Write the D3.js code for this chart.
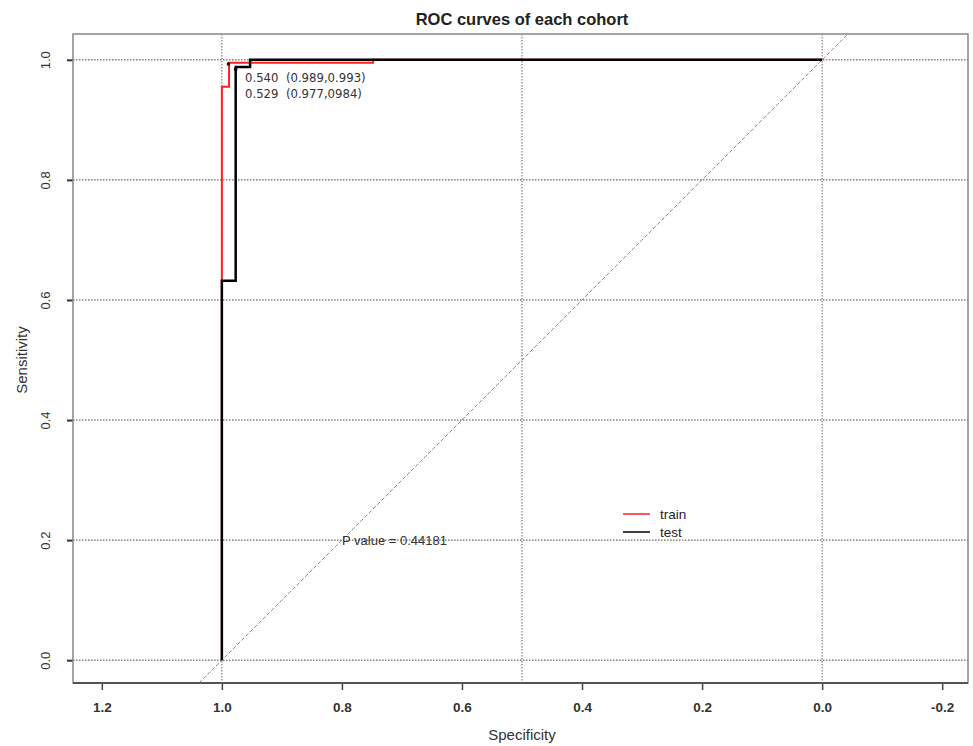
<!DOCTYPE html>
<html>
<head>
<meta charset="utf-8">
<script src="https://cdn.jsdelivr.net/npm/d3@7"></script>
<style>
  html, body { margin: 0; padding: 0; background: #fff; }
  svg { display: block; font-family: "Liberation Sans", Arial, sans-serif; }
</style>
</head>
<body>
<svg id="chart" width="973" height="746"></svg>
<script>
// ROC step curves (specificity, sensitivity)
const trainSpec = [1.0, 1.0, 0.988, 0.988, 0.748, 0.748, 0.0];
const trainSens = [0.0, 0.955, 0.955, 0.995, 0.995, 1.0, 1.0];
const testSpec  = [1.0, 1.0, 0.977, 0.977, 0.953, 0.953, 0.0];
const testSens  = [0.0, 0.632, 0.632, 0.988, 0.988, 1.0, 1.0];

// best thresholds: threshold, specificity, sensitivity
const bestThreshold = [0.540, 0.529];
const bestSpec = [0.989, 0.977];
const bestSens = [0.993, 0.984];
const bestLabels = ["0.540  (0.989,0.993)", "0.529  (0.977,0984)"];

const xTicks = [1.2, 1.0, 0.8, 0.6, 0.4, 0.2, 0.0, -0.2];
const yTicks = [0.0, 0.2, 0.4, 0.6, 0.8, 1.0];
const vGrid = [1.0, 0.5, 0.0];
const seriesNames = ["train", "test"];
const seriesColors = ["#ff2020", "#000000"];
const pValueText = "P value = 0.44181";

const svg = d3.select("#chart");
const plot = { left: 73, right: 968, top: 34, bottom: 683 };

const x = d3.scaleLinear().domain([1.248, -0.243]).range([plot.left, plot.right]);
const y = d3.scaleLinear().domain([-0.038, 1.043]).range([plot.bottom, plot.top]);

// plain hyphen for negative tick labels
const fmt = d => d.toFixed(1);

// title
svg.append("text")
  .attr("x", x(0.5)).attr("y", 25)
  .attr("text-anchor", "middle")
  .attr("font-size", 16.5).attr("font-weight", "bold").attr("fill", "#222")
  .text("ROC curves of each cohort");

// horizontal grid
svg.append("g").selectAll("line").data(yTicks).join("line")
  .attr("x1", plot.left).attr("x2", plot.right)
  .attr("y1", d => y(d)).attr("y2", d => y(d))
  .attr("stroke", "#444").attr("stroke-width", 1)
  .attr("stroke-dasharray", "1.5,1.5");

// vertical grid
svg.append("g").selectAll("line").data(vGrid).join("line")
  .attr("x1", d => x(d)).attr("x2", d => x(d))
  .attr("y1", plot.top).attr("y2", plot.bottom)
  .attr("stroke", "#666").attr("stroke-width", 1)
  .attr("stroke-dasharray", "1.5,1.5");

// chance diagonal, sensitivity = 1 - specificity
svg.append("line")
  .attr("x1", x(1 - y.domain()[0])).attr("y1", y(y.domain()[0]))
  .attr("x2", x(1 - y.domain()[1])).attr("y2", y(y.domain()[1]))
  .attr("stroke", "#888").attr("stroke-width", 1)
  .attr("stroke-dasharray", "4,2");

// axes
const xAxis = d3.axisBottom(x).tickValues(xTicks).tickSize(7).tickFormat(fmt);
const gx = svg.append("g").attr("transform", `translate(0,${plot.bottom})`).call(xAxis);
gx.select(".domain").remove();
gx.selectAll(".tick line").attr("stroke", "#444").attr("stroke-width", 1.5);
gx.selectAll(".tick text")
  .attr("y", 19).attr("font-size", 13.5).attr("font-weight", "bold")
  .attr("fill", "#333").attr("font-family", "Liberation Sans, Arial, sans-serif");

const yAxis = d3.axisLeft(y).tickValues(yTicks).tickSize(6).tickFormat(fmt);
const gy = svg.append("g").attr("transform", `translate(${plot.left},0)`).call(yAxis);
gy.select(".domain").remove();
gy.selectAll(".tick line").attr("stroke", "#333").attr("stroke-width", 2);
gy.selectAll(".tick text")
  .attr("x", null).attr("dy", null)
  .attr("transform", "translate(-26,0) rotate(-90)")
  .attr("text-anchor", "middle").attr("dominant-baseline", "middle")
  .attr("font-size", 13).attr("fill", "#333")
  .attr("font-family", "Liberation Sans, Arial, sans-serif");

// plot frame
svg.append("rect")
  .attr("x", plot.left).attr("y", plot.top)
  .attr("width", plot.right - plot.left).attr("height", plot.bottom - plot.top)
  .attr("fill", "none").attr("stroke", "#888").attr("stroke-width", 1.5);
svg.append("line")
  .attr("x1", plot.left).attr("x2", plot.right)
  .attr("y1", plot.bottom).attr("y2", plot.bottom)
  .attr("stroke", "#555").attr("stroke-width", 2);

// axis titles
svg.append("text")
  .attr("x", x(0.5)).attr("y", 740)
  .attr("text-anchor", "middle").attr("font-size", 15).attr("fill", "#333")
  .text("Specificity");
svg.append("text")
  .attr("transform", `translate(27,${y(0.5)}) rotate(-90)`)
  .attr("text-anchor", "middle").attr("font-size", 15).attr("fill", "#333")
  .text("Sensitivity");

// ROC curves
const line = d3.line().x(d => x(d[0])).y(d => y(d[1]));
const trainPts = trainSpec.map((s, i) => [s, trainSens[i]]);
const testPts = testSpec.map((s, i) => [s, testSens[i]]);

svg.append("path").datum(trainPts)
  .attr("d", line).attr("fill", "none")
  .attr("stroke", seriesColors[0]).attr("stroke-width", 2);
svg.append("path").datum(testPts)
  .attr("d", line).attr("fill", "none")
  .attr("stroke", seriesColors[1]).attr("stroke-width", 2.5);

// best threshold points and labels
svg.append("g").selectAll("circle").data(bestSpec).join("circle")
  .attr("cx", d => x(d)).attr("cy", (d, i) => y(bestSens[i]))
  .attr("r", 1.8).attr("fill", "#000");
svg.append("g").selectAll("text").data(bestLabels).join("text")
  .attr("x", 245).attr("y", (d, i) => 82 + i * 16)
  .attr("font-size", 11.7).attr("fill", "#333")
  .attr("xml:space", "preserve").style("white-space", "pre")
  .attr("font-family", "DejaVu Sans, sans-serif")
  .text(d => d);

// p value
svg.append("text")
  .attr("x", 342).attr("y", 545)
  .attr("font-size", 13).attr("fill", "#333")
  .text(pValueText);

// legend
const legend = svg.append("g").attr("transform", "translate(623,514)");
seriesNames.forEach((name, i) => {
  legend.append("line")
    .attr("x1", 0).attr("x2", 27)
    .attr("y1", i * 18).attr("y2", i * 18)
    .attr("stroke", seriesColors[i]).attr("stroke-width", 1.5);
  legend.append("text")
    .attr("x", 37).attr("y", i * 18 + 4.5)
    .attr("font-size", 13.5).attr("fill", "#222")
    .text(name);
});
</script>
</body>
</html>
